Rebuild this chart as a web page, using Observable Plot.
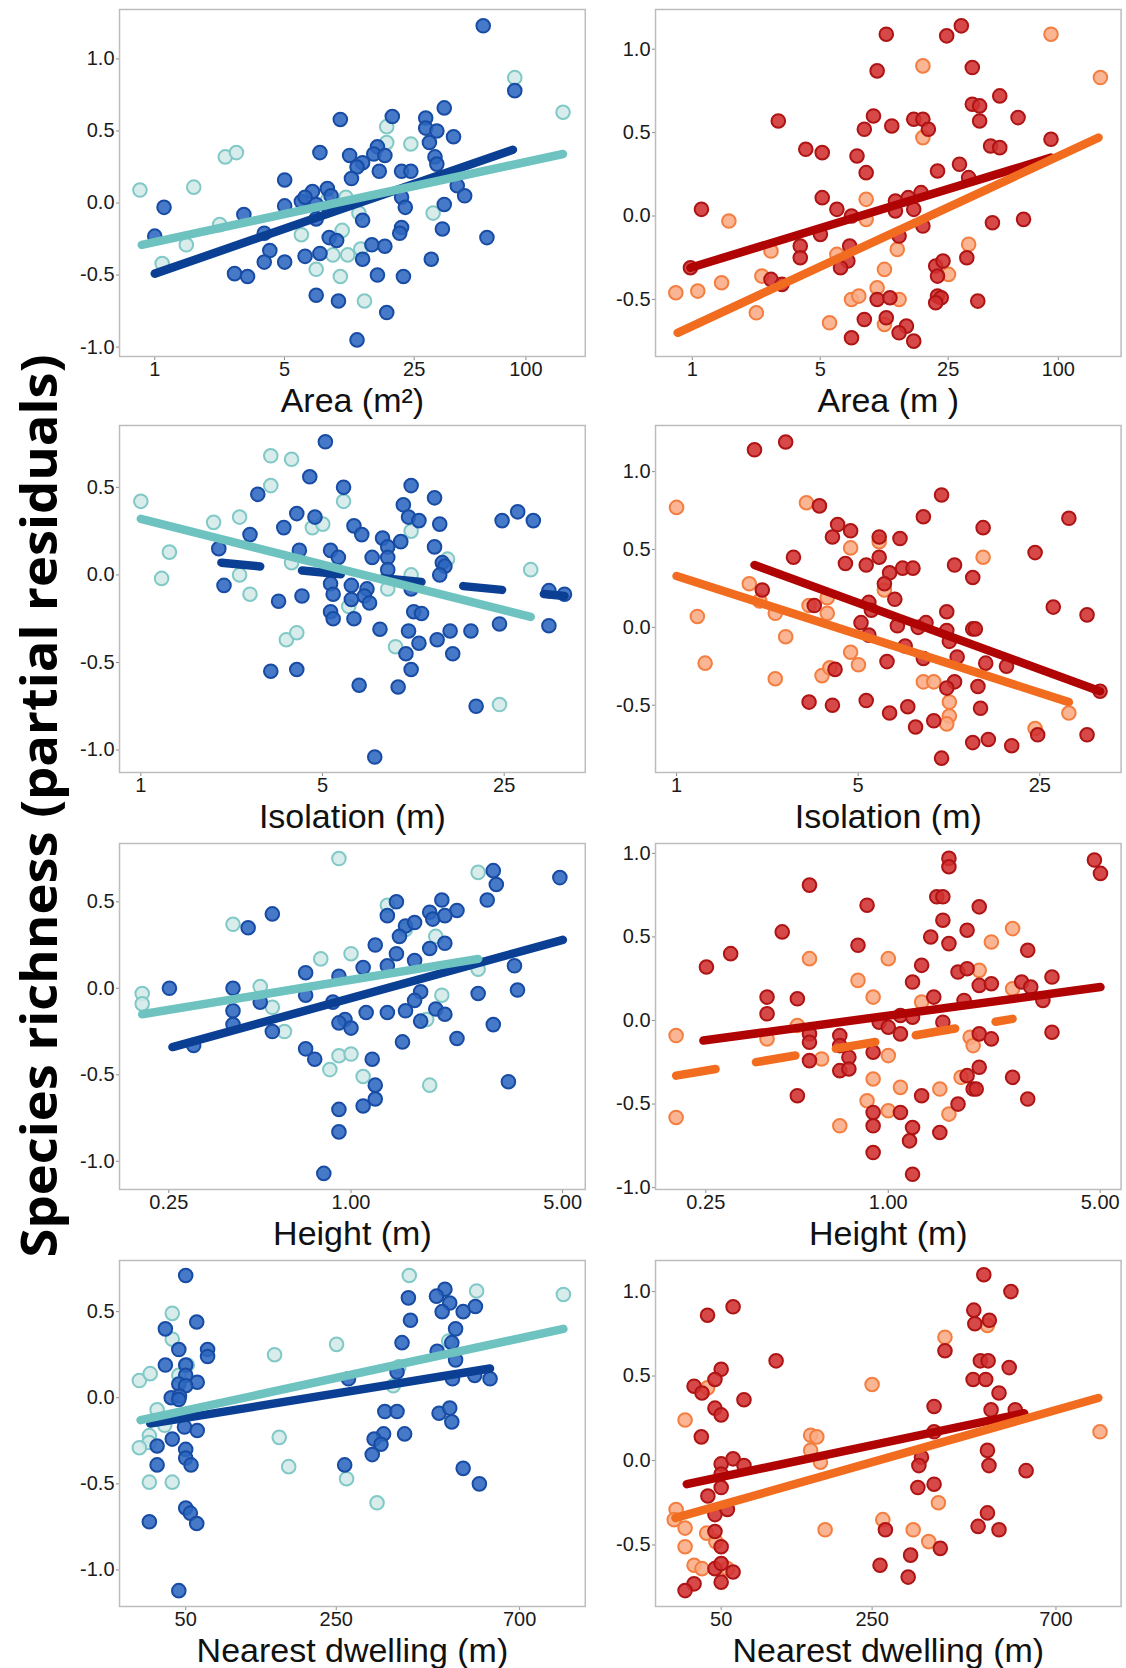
<!DOCTYPE html>
<html><head><meta charset="utf-8">
<script src="https://cdn.jsdelivr.net/npm/d3@7"></script>
<script src="https://cdn.jsdelivr.net/npm/@observablehq/plot@0.6"></script>
<style>
html,body{margin:0;padding:0;background:#fff;}
#root{position:relative;width:1126px;height:1668px;overflow:hidden;background:#fff;}
.cell{position:absolute;}
.cell svg{overflow:visible;}
#ylab{position:absolute;left:0;top:0;z-index:5;}
</style></head><body>
<div id="root"></div>
<script>
// ---------- Tick labels ----------
const areaTicks = [1, 5, 25, 100];
const areaTickLabels = ["1", "5", "25", "100"];
const isolationTicks = [1, 5, 25];
const isolationTickLabels = ["1", "5", "25"];
const heightTicks = [0.25, 1, 5];
const heightTickLabels = ["0.25", "1.00", "5.00"];
const dwellingTicks = [50, 250, 700];
const dwellingTickLabels = ["50", "250", "700"];

// ---------- Area, blue (x = log10 area m²) ----------
const areaBlueDarkX = [1.77,1.94,1.00,1.28,1.56,1.46,1.46,1.52,1.61,1.48,0.89,1.05,1.12,1.09,1.20,1.18,1.24,1.21,1.06,0.70,1.33,1.38,1.51,1.52,1.63,1.67,1.56,1.33,1.35,0.05,0.48,0.70,0.79,0.85,0.81,0.93,0.95,0.87,0.87,0.94,1.12,0.00,0.59,0.62,0.59,0.70,0.81,0.89,0.94,0.98,1.12,1.17,1.24,1.33,1.32,1.55,1.79,1.49,0.43,0.50,1.20,1.34,0.87,0.99,1.25,1.09];
const areaBlueDarkY = [1.23,0.78,0.58,0.60,0.66,0.59,0.52,0.50,0.46,0.42,0.35,0.33,0.28,0.25,0.39,0.34,0.33,0.22,0.17,0.16,0.22,0.22,0.32,0.27,0.12,0.05,-0.01,0.04,-0.03,-0.03,-0.08,-0.02,0.01,0.08,0.04,0.10,0.05,-0.01,-0.11,-0.04,-0.12,-0.23,-0.21,-0.33,-0.41,-0.41,-0.37,-0.35,-0.24,-0.26,-0.39,-0.29,-0.30,-0.17,-0.21,-0.18,-0.24,-0.39,-0.49,-0.51,-0.50,-0.51,-0.64,-0.68,-0.76,-0.95];
const areaBlueLightX = [1.94,2.20,1.25,1.25,1.38,0.38,0.44,-0.08,0.21,0.35,0.17,0.04,0.79,1.01,0.96,1.04,1.11,0.87,1.00,1.13,1.50,1.03,1.10,0.93];
const areaBlueLightY = [0.87,0.63,0.53,0.42,0.41,0.32,0.35,0.09,0.11,-0.15,-0.29,-0.42,-0.22,-0.19,-0.36,-0.36,-0.32,-0.46,-0.51,-0.68,-0.07,0.04,-0.07,0.02];
const areaBlueFitDarkX = [0.00, 1.93], areaBlueFitDarkY = [-0.49, 0.37];
const areaBlueFitLightX = [-0.07, 2.20], areaBlueFitLightY = [-0.29, 0.34];

// ---------- Area, red ----------
const areaRedDarkX = [1.47,1.06,1.39,1.01,1.53,1.68,1.53,1.57,1.57,0.47,0.99,0.94,1.09,1.21,1.26,1.29,1.78,1.96,1.63,1.68,0.62,0.71,0.90,0.95,1.34,1.46,1.51,0.05,0.71,0.79,0.87,1.11,1.18,1.25,1.21,1.11,1.26,1.64,1.81,1.13,0.70,0.59,0.59,0.86,0.85,0.81,-0.01,0.43,0.49,1.33,1.37,1.34,1.50,1.34,1.36,1.33,1.56,1.01,1.08,0.94,1.06,1.17,1.13,1.21,0.87];
const areaRedDarkY = [1.14,1.09,1.08,0.87,0.89,0.72,0.67,0.66,0.57,0.57,0.60,0.52,0.54,0.58,0.58,0.52,0.59,0.46,0.42,0.41,0.40,0.38,0.36,0.26,0.27,0.31,0.23,0.04,0.11,0.04,0.00,0.09,0.11,0.14,0.04,0.03,-0.06,-0.04,-0.02,-0.12,-0.11,-0.18,-0.25,-0.18,-0.27,-0.31,-0.31,-0.38,-0.41,-0.30,-0.27,-0.36,-0.25,-0.48,-0.49,-0.52,-0.51,-0.50,-0.49,-0.62,-0.61,-0.66,-0.70,-0.75,-0.73];
const areaRedLightX = [1.96,2.23,1.26,1.26,0.95,0.95,0.20,0.43,0.79,1.12,1.51,0.38,1.40,1.05,-0.09,0.03,0.16,1.01,0.87,0.91,1.13,0.35,0.75,1.05];
const areaRedLightY = [1.09,0.83,0.90,0.47,0.10,-0.02,-0.03,-0.21,-0.23,-0.20,-0.17,-0.36,-0.35,-0.32,-0.46,-0.45,-0.40,-0.43,-0.50,-0.48,-0.50,-0.58,-0.64,-0.65];
const areaRedFitDarkX = [-0.01, 1.96], areaRedFitDarkY = [-0.31, 0.35];
const areaRedFitLightX = [-0.08, 2.22], areaRedFitLightY = [-0.70, 0.47];

// ---------- Isolation, blue (x = log10 isolation m) ----------
const isoBlueDarkX = [0.71,0.65,0.45,0.78,1.04,1.13,1.01,1.03,1.07,1.15,0.60,0.67,0.55,0.42,0.82,0.85,0.93,1.00,0.95,1.13,1.39,1.45,1.51,0.30,0.61,0.73,0.76,0.89,0.95,0.95,1.16,1.17,1.15,0.32,0.73,0.74,0.81,0.87,0.86,0.81,0.88,0.62,0.53,1.04,1.57,1.63,1.57,1.38,0.73,0.74,0.82,0.92,1.03,1.05,1.08,1.14,1.07,1.19,1.27,1.02,1.20,1.04,0.50,0.60,0.84,0.99,1.29,0.90];
const isoBlueDarkY = [0.76,0.56,0.46,0.50,0.51,0.44,0.40,0.33,0.31,0.29,0.35,0.33,0.27,0.23,0.28,0.23,0.21,0.19,0.16,0.16,0.31,0.36,0.31,0.15,0.14,0.14,0.10,0.10,0.10,0.03,0.07,0.05,0.00,-0.06,-0.05,-0.11,-0.06,-0.08,-0.12,-0.14,-0.16,-0.12,-0.15,-0.08,-0.09,-0.11,-0.29,-0.28,-0.21,-0.25,-0.25,-0.31,-0.32,-0.21,-0.22,-0.37,-0.39,-0.32,-0.32,-0.45,-0.45,-0.54,-0.55,-0.54,-0.63,-0.64,-0.75,-1.04];
const isoBlueLightX = [0.50,0.58,0.50,0.00,0.78,0.28,0.38,0.66,0.70,0.11,0.08,0.38,0.42,0.58,1.04,1.18,1.04,0.95,1.50,0.80,0.56,0.60,0.98,1.38];
const isoBlueLightY = [0.68,0.66,0.51,0.42,0.42,0.30,0.33,0.27,0.29,0.13,-0.02,0.00,-0.11,0.07,0.25,0.09,0.00,-0.08,0.03,-0.18,-0.37,-0.33,-0.41,-0.74];
const isoBlueFitDarkX = [0.31, 1.63], isoBlueFitDarkY = [0.07, -0.12];
const isoBlueFitLightX = [0.00, 1.50], isoBlueFitLightY = [0.32, -0.24];

// ---------- Isolation, red ----------
const isoRedDarkX = [0.30,0.42,1.02,0.55,0.95,1.51,0.62,0.67,0.60,0.78,0.86,1.18,0.45,0.65,0.73,0.78,0.82,0.87,0.91,1.07,1.14,1.38,0.80,0.84,0.33,0.53,0.74,0.75,1.04,1.45,1.58,0.71,0.85,0.93,0.96,1.04,1.05,1.14,1.15,0.74,0.88,0.95,1.08,0.81,1.19,1.27,0.61,1.07,1.04,1.16,1.63,0.51,0.60,0.73,0.89,1.17,0.82,0.99,0.92,1.39,1.58,1.14,1.20,1.29,1.02];
const isoRedDarkY = [1.14,1.19,0.85,0.78,0.71,0.70,0.66,0.62,0.58,0.58,0.57,0.64,0.45,0.41,0.40,0.45,0.35,0.38,0.38,0.40,0.32,0.48,0.28,0.18,0.24,0.14,0.16,0.11,0.10,0.13,0.08,0.03,0.01,0.00,0.03,-0.02,-0.09,-0.01,-0.01,-0.05,-0.12,-0.20,-0.19,-0.22,-0.23,-0.25,-0.27,-0.35,-0.39,-0.38,-0.41,-0.48,-0.50,-0.47,-0.51,-0.52,-0.55,-0.60,-0.64,-0.69,-0.69,-0.74,-0.72,-0.76,-0.84];
const isoRedLightX = [0.00,0.50,0.67,0.78,1.18,0.28,0.80,0.32,0.58,0.51,0.58,0.38,0.08,0.42,0.11,0.38,0.56,0.59,0.67,0.70,0.95,0.99,1.05,1.05,1.04,1.38,1.51];
const isoRedLightY = [0.77,0.80,0.51,0.55,0.45,0.28,0.24,0.17,0.19,0.14,0.09,0.09,0.07,-0.06,-0.23,-0.33,-0.31,-0.26,-0.16,-0.24,-0.35,-0.35,-0.48,-0.57,-0.62,-0.65,-0.55];
const isoRedFitDarkX = [0.30, 1.63], isoRedFitDarkY = [0.40, -0.41];
const isoRedFitLightX = [0.00, 1.51], isoRedFitLightY = [0.33, -0.48];

// ---------- Height, blue (x = log10 height m) ----------
const hgtBlueDarkX = [0.47,0.48,0.69,0.45,0.15,0.30,0.35,0.26,0.27,0.31,0.12,-0.26,-0.34,0.18,0.21,0.16,0.31,0.08,0.26,0.15,0.21,0.04,0.12,0.54,-0.15,-0.04,-0.60,-0.39,0.42,0.55,0.23,0.21,-0.15,-0.06,-0.30,-0.39,0.28,0.31,0.05,0.12,0.18,-0.39,-0.02,-0.04,0.00,0.23,0.47,-0.26,-0.52,0.35,0.17,-0.15,-0.12,0.07,0.08,0.52,0.08,0.04,-0.04,-0.04,-0.09];
const hgtBlueDarkY = [0.68,0.60,0.64,0.51,0.50,0.51,0.45,0.44,0.40,0.42,0.42,0.43,0.35,0.36,0.38,0.30,0.26,0.25,0.23,0.20,0.16,0.12,0.13,0.13,0.09,0.07,0.00,0.00,-0.03,-0.01,-0.02,-0.07,-0.04,-0.08,-0.08,-0.13,-0.12,-0.15,-0.14,-0.14,-0.13,-0.21,-0.18,-0.20,-0.23,-0.19,-0.21,-0.25,-0.33,-0.29,-0.31,-0.35,-0.41,-0.41,-0.56,-0.54,-0.64,-0.68,-0.70,-0.83,-1.07];
const hgtBlueLightX = [-0.04,0.42,0.12,-0.39,0.00,-0.10,0.28,0.18,0.42,0.30,-0.30,-0.69,-0.69,-0.26,-0.22,-0.04,0.00,-0.07,0.04,0.26,0.25];
const hgtBlueLightY = [0.75,0.67,0.48,0.37,0.20,0.17,0.30,0.34,0.11,-0.04,0.01,-0.03,-0.09,-0.11,-0.25,-0.39,-0.38,-0.47,-0.51,-0.56,-0.18];
const hgtBlueFitDarkX = [-0.59, 0.70], hgtBlueFitDarkY = [-0.34, 0.28];
const hgtBlueFitLightX = [-0.69, 0.42], hgtBlueFitLightY = [-0.15, 0.17];

// ---------- Height, red ----------
const hgtRedDarkX = [0.20,0.20,0.68,0.70,-0.26,-0.07,0.30,0.16,0.18,0.18,-0.35,0.14,0.26,0.20,-0.10,0.46,-0.52,-0.60,0.11,0.23,0.26,0.08,0.30,0.34,0.44,0.47,0.54,0.51,-0.40,-0.30,0.15,0.25,-0.40,0.04,0.08,0.18,-0.03,0.00,0.04,0.30,0.34,0.54,-0.26,-0.26,-0.16,-0.16,-0.05,-0.13,-0.26,-0.16,-0.13,0.30,0.26,0.41,0.28,0.29,-0.30,0.11,0.23,0.46,-0.05,0.04,-0.05,0.08,0.17,0.07,-0.05,0.08];
const hgtRedDarkY = [0.97,0.92,0.96,0.88,0.81,0.69,0.68,0.74,0.74,0.60,0.53,0.50,0.54,0.46,0.45,0.42,0.40,0.32,0.33,0.29,0.31,0.23,0.21,0.22,0.23,0.20,0.26,0.12,0.14,0.13,0.14,0.12,0.04,0.03,0.02,-0.01,-0.01,-0.04,-0.08,-0.08,-0.11,-0.07,-0.08,-0.13,-0.09,-0.15,-0.19,-0.22,-0.24,-0.30,-0.29,-0.28,-0.33,-0.34,-0.41,-0.41,-0.45,-0.45,-0.50,-0.47,-0.55,-0.55,-0.63,-0.64,-0.67,-0.72,-0.79,-0.92];
const hgtRedLightX = [0.41,0.34,-0.26,0.00,-0.10,-0.05,0.30,0.41,0.11,-0.30,-0.40,-0.70,-0.70,-0.22,0.00,-0.05,0.27,0.28,0.24,0.04,0.17,-0.07,0.00,0.20,-0.16];
const hgtRedLightY = [0.55,0.47,0.37,0.37,0.24,0.14,0.30,0.19,0.11,-0.03,-0.11,-0.09,-0.58,-0.23,-0.21,-0.35,-0.10,-0.15,-0.34,-0.40,-0.41,-0.48,-0.54,-0.56,-0.63];
const hgtRedFitDarkX = [-0.61, 0.70], hgtRedFitDarkY = [-0.12, 0.20];
const hgtRedFitLightX = [-0.70, 0.41], hgtRedFitLightY = [-0.33, 0.01];

// ---------- Nearest dwelling, blue (x = sqrt distance m) ----------
const dwlBlueDarkX = [7.07,22.12,21.63,20.00,22.40,21.96,23.18,23.89,20.12,7.71,5.89,22.74,19.63,6.67,8.34,8.34,5.89,7.07,7.07,7.74,6.67,7.07,21.67,22.52,22.74,22.56,23.85,24.74,19.34,16.52,6.23,6.71,6.67,18.63,19.34,21.78,22.40,22.52,7.00,7.74,6.29,5.41,19.78,18.56,18.01,18.41,17.90,7.07,7.07,7.38,5.41,16.30,23.18,24.12,7.07,7.34,7.71,4.96,6.67];
const dwlBlueDarkY = [0.71,0.63,0.59,0.58,0.55,0.50,0.50,0.53,0.45,0.44,0.40,0.40,0.32,0.28,0.28,0.24,0.19,0.19,0.13,0.09,0.08,0.07,0.27,0.32,0.22,0.11,0.13,0.11,0.15,0.11,0.00,0.01,-0.01,-0.08,-0.08,-0.09,-0.06,-0.14,-0.17,-0.19,-0.24,-0.28,-0.21,-0.21,-0.24,-0.27,-0.33,-0.30,-0.35,-0.39,-0.39,-0.39,-0.41,-0.50,-0.64,-0.67,-0.73,-0.72,-1.12];
const dwlBlueLightX = [20.05,23.96,29.00,6.29,6.29,15.83,12.23,4.38,5.01,6.67,7.16,5.41,5.85,4.96,4.94,4.38,12.50,13.05,16.41,4.96,6.29,18.18,22.34,19.45,19.12];
const dwlBlueLightY = [0.71,0.62,0.60,0.49,0.34,0.31,0.25,0.10,0.14,0.13,0.19,-0.07,-0.16,-0.22,-0.26,-0.29,-0.23,-0.40,-0.47,-0.49,-0.49,-0.61,0.33,0.18,0.07];
const dwlBlueFitDarkX = [5.01, 24.74], dwlBlueFitDarkY = [-0.15, 0.17];
const dwlBlueFitLightX = [4.45, 29.00], dwlBlueFitLightY = [-0.13, 0.40];

// ---------- Nearest dwelling, red ----------
const dwlRedDarkX = [22.28,23.85,7.76,6.28,21.70,21.76,22.60,20.03,10.25,22.08,22.53,23.75,7.07,6.71,21.66,22.39,5.50,5.96,23.16,8.39,6.71,7.07,19.40,22.70,24.10,5.92,19.40,22.49,18.67,18.52,22.58,24.73,7.07,7.76,8.39,7.07,7.07,6.30,6.71,7.43,18.46,19.40,22.49,21.95,23.16,6.71,16.58,7.07,19.76,18.04,16.27,6.71,7.07,7.76,7.07,5.50,4.98,17.90];
const dwlRedDarkY = [1.10,1.00,0.91,0.86,0.89,0.81,0.83,0.65,0.59,0.59,0.59,0.55,0.54,0.48,0.48,0.48,0.44,0.40,0.40,0.36,0.31,0.27,0.32,0.30,0.30,0.14,0.17,0.06,0.02,-0.03,-0.03,-0.06,-0.02,0.01,-0.03,-0.08,-0.16,-0.21,-0.32,-0.29,-0.16,-0.14,-0.31,-0.39,-0.41,-0.42,-0.41,-0.51,-0.52,-0.56,-0.62,-0.64,-0.61,-0.66,-0.72,-0.73,-0.77,-0.69];
const dwlRedLightX = [20.03,22.49,15.81,6.28,4.98,12.25,12.61,12.25,12.82,4.46,4.35,4.98,6.23,4.98,6.76,5.50,5.96,7.43,13.09,16.43,18.19,19.65,19.09,29.01];
const dwlRedLightY = [0.73,0.80,0.45,0.43,0.24,0.15,0.14,0.06,-0.01,-0.29,-0.35,-0.40,-0.43,-0.51,-0.48,-0.62,-0.64,-0.64,-0.41,-0.35,-0.41,-0.25,-0.48,0.17];
const dwlRedFitDarkX = [5.08, 24.62], dwlRedFitDarkY = [-0.14, 0.28];
const dwlRedFitLightX = [4.42, 28.91], dwlRedFitLightY = [-0.34, 0.37];

// ---------- Build ----------
function pts(xs, ys) { const n = Math.min(xs.length, ys.length); return d3.range(n).map(i => ({x: xs[i], y: ys[i]})); }

const PAL = {
  blue: {darkFill:"#2c66bf", darkStroke:"#184ca4", lightFill:"#d2e9e8", lightStroke:"#80c9c6", darkLine:"#0b3f93", lightLine:"#6ec3c1"},
  red:  {darkFill:"#d23030", darkStroke:"#ae1414", lightFill:"#f9ac85", lightStroke:"#f47e40", darkLine:"#b00303", lightLine:"#f26c1f"}
};
const COLS = [{left:118.6, w:465.8}, {left:655, w:465.6}];
const ROWS = [{top:9, h:347}, {top:425, h:347}, {top:843, h:346}, {top:1260, h:346}];
const ML = 60, MR = 5, MT = 8, MB = 62;

const panels = [
  {row:0,col:0,pal:"blue",xT:Math.log10,ticks:areaTicks,tickLabels:areaTickLabels,xDom:[-0.19,2.32],yDom:[-1.065,1.343],yTicks:[-1,-0.5,0,0.5,1],label:"Area (m²)",
   dark:pts(areaBlueDarkX,areaBlueDarkY),light:pts(areaBlueLightX,areaBlueLightY),fitDark:pts(areaBlueFitDarkX,areaBlueFitDarkY),fitLight:pts(areaBlueFitLightX,areaBlueFitLightY)},
  {row:0,col:1,pal:"red",xT:Math.log10,ticks:areaTicks,tickLabels:areaTickLabels,xDom:[-0.201,2.343],yDom:[-0.842,1.238],yTicks:[-0.5,0,0.5,1],label:"Area (m )",
   dark:pts(areaRedDarkX,areaRedDarkY),light:pts(areaRedLightX,areaRedLightY),fitDark:pts(areaRedFitDarkX,areaRedFitDarkY),fitLight:pts(areaRedFitLightX,areaRedFitLightY)},
  {row:1,col:0,pal:"blue",xT:Math.log10,ticks:isolationTicks,tickLabels:isolationTickLabels,xDom:[-0.082,1.71],yDom:[-1.128,0.853],yTicks:[-1,-0.5,0,0.5],label:"Isolation (m)",
   dark:pts(isoBlueDarkX,isoBlueDarkY),light:pts(isoBlueLightX,isoBlueLightY),fitDark:pts(isoBlueFitDarkX,isoBlueFitDarkY),fitLight:pts(isoBlueFitLightX,isoBlueFitLightY),dashDark:"39 42"},
  {row:1,col:1,pal:"red",xT:Math.log10,ticks:isolationTicks,tickLabels:isolationTickLabels,xDom:[-0.081,1.711],yDom:[-0.932,1.296],yTicks:[-0.5,0,0.5,1],label:"Isolation (m)",
   dark:pts(isoRedDarkX,isoRedDarkY),light:pts(isoRedLightX,isoRedLightY),fitDark:pts(isoRedFitDarkX,isoRedFitDarkY),fitLight:pts(isoRedFitLightX,isoRedFitLightY)},
  {row:2,col:0,pal:"blue",xT:Math.log10,ticks:heightTicks,tickLabels:heightTickLabels,xDom:[-0.765,0.774],yDom:[-1.163,0.837],yTicks:[-1,-0.5,0,0.5],label:"Height (m)",
   dark:pts(hgtBlueDarkX,hgtBlueDarkY),light:pts(hgtBlueLightX,hgtBlueLightY),fitDark:pts(hgtBlueFitDarkX,hgtBlueFitDarkY),fitLight:pts(hgtBlueFitLightX,hgtBlueFitLightY)},
  {row:2,col:1,pal:"red",xT:Math.log10,ticks:heightTicks,tickLabels:heightTickLabels,xDom:[-0.768,0.768],yDom:[-1.011,1.059],yTicks:[-1,-0.5,0,0.5,1],label:"Height (m)",
   dark:pts(hgtRedDarkX,hgtRedDarkY),light:pts(hgtRedLightX,hgtRedLightY),fitDark:pts(hgtRedFitDarkX,hgtRedFitDarkY),fitLight:pts(hgtRedFitLightX,hgtRedFitLightY),dashLight:"40 41"},
  {row:3,col:0,pal:"blue",xT:Math.sqrt,ticks:dwellingTicks,tickLabels:dwellingTickLabels,xDom:[3.227,30.27],yDom:[-1.212,0.797],yTicks:[-1,-0.5,0,0.5],label:"Nearest dwelling (m)",
   dark:pts(dwlBlueDarkX,dwlBlueDarkY),light:pts(dwlBlueLightX,dwlBlueLightY),fitDark:pts(dwlBlueFitDarkX,dwlBlueFitDarkY),fitLight:pts(dwlBlueFitLightX,dwlBlueFitLightY)},
  {row:3,col:1,pal:"red",xT:Math.sqrt,ticks:dwellingTicks,tickLabels:dwellingTickLabels,xDom:[3.267,30.23],yDom:[-0.864,1.184],yTicks:[-0.5,0,0.5,1],label:"Nearest dwelling (m)",
   dark:pts(dwlRedDarkX,dwlRedDarkY),light:pts(dwlRedLightX,dwlRedLightY),fitDark:pts(dwlRedFitDarkX,dwlRedFitDarkY),fitLight:pts(dwlRedFitLightX,dwlRedFitLightY)}
];

const root = document.getElementById("root");

panels.forEach(p => {
  const c = PAL[p.pal], col = COLS[p.col], row = ROWS[p.row];
  const tickPos = p.ticks.map(p.xT);
  const labelOf = new Map(tickPos.map((t, i) => [t, p.tickLabels[i]]));
  const chart = Plot.plot({
    width: col.w + ML + MR,
    height: row.h + MT + MB,
    marginLeft: ML, marginRight: MR, marginTop: MT, marginBottom: MB,
    x: {domain: p.xDom},
    y: {domain: p.yDom},
    style: {background: "transparent", fontFamily: "'Liberation Sans', Arial, sans-serif", fontSize: "20px", color: "#1a1a1a", overflow: "visible"},
    marks: [
      Plot.axisX({ticks: tickPos, tickFormat: d => labelOf.get(d), tickSize: 4, tickPadding: 1, fontSize: 20, stroke: "#8a8a8a", label: null}),
      Plot.axisY({ticks: p.yTicks, tickFormat: d => d.toFixed(1), tickSize: 3, tickPadding: 2, fontSize: 20, stroke: "#8a8a8a", label: null}),
      Plot.dot(p.light, {x: "x", y: "y", r: 6.8, fill: c.lightFill, fillOpacity: 0.88, stroke: c.lightStroke, strokeWidth: 2}),
      Plot.dot(p.dark, {x: "x", y: "y", r: 6.8, fill: c.darkFill, fillOpacity: 0.88, stroke: c.darkStroke, strokeWidth: 2}),
      Plot.line(p.fitDark, {x: "x", y: "y", stroke: c.darkLine, strokeWidth: 8.5, strokeDasharray: p.dashDark || null}),
      Plot.line(p.fitLight, {x: "x", y: "y", stroke: c.lightLine, strokeWidth: 8.5, strokeDasharray: p.dashLight || null}),
      Plot.frame({stroke: "#bdbdbd", strokeWidth: 1.5}),
      Plot.text([p.label], {text: d => d, frameAnchor: "bottom", dy: 31, lineAnchor: "top", fontSize: 34, fill: "#111"})
    ]
  });
  const div = document.createElement("div");
  div.className = "cell";
  div.style.left = (col.left - ML) + "px";
  div.style.top = (row.top - MT) + "px";
  div.appendChild(chart);
  root.appendChild(div);
});

// Shared y-axis title
const NS = "http://www.w3.org/2000/svg";
const ysvg = document.createElementNS(NS, "svg");
ysvg.setAttribute("id", "ylab");
ysvg.setAttribute("width", "76");
ysvg.setAttribute("height", "1668");
const yt = document.createElementNS(NS, "text");
yt.setAttribute("x", "57");
yt.setAttribute("y", "806");
yt.setAttribute("transform", "rotate(-90, 57, 806)");
yt.setAttribute("text-anchor", "middle");
yt.setAttribute("font-family", "'Open Sans', 'Noto Sans', sans-serif");
yt.setAttribute("font-weight", "bold");
yt.setAttribute("font-size", "50");
yt.setAttribute("textLength", "903");
yt.setAttribute("lengthAdjust", "spacingAndGlyphs");
yt.setAttribute("fill", "#000");
yt.textContent = "Species richness (partial residuals)";
ysvg.appendChild(yt);
root.appendChild(ysvg);
</script>
</body></html>
